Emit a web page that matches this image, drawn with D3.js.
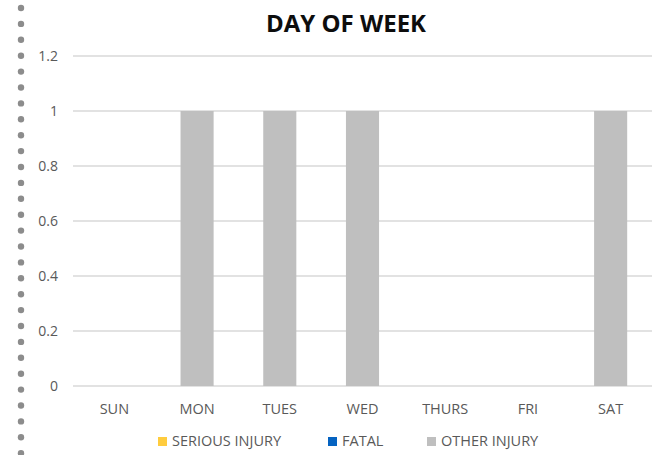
<!DOCTYPE html>
<html><head><meta charset="utf-8">
<script src="https://cdn.jsdelivr.net/npm/d3@7"></script>
<style>body{margin:0;background:#fff}svg{display:block}</style>
</head><body>
<script>
const categories = ["SUN","MON","TUES","WED","THURS","FRI","SAT"];
const seriousInjury = [0,0,0,0,0,0,0];
const fatal = [0,0,0,0,0,0,0];
const otherInjury = [0,1,1,1,0,0,1];
const yTicks = [0,0.2,0.4,0.6,0.8,1,1.2];
const seriesNames = ["SERIOUS INJURY","FATAL","OTHER INJURY"];
const seriesColors = ["#FFCC3E","#0563C1","#BFBFBF"];

const W=662,H=455;
const svg=d3.select("body").append("svg").attr("width",W).attr("height",H);
const font="'Open Sans', sans-serif";

// dotted left border
const dotY = d3.range(29).map(i=>8+i*15.9);
svg.selectAll("circle.dot").data(dotY).enter().append("circle")
  .attr("cx",21).attr("cy",d=>d).attr("r",3.2).attr("fill","#8c8c8c");

const x=d3.scaleBand().domain(categories).range([73,652]).paddingInner(0).paddingOuter(0);
const y=d3.scaleLinear().domain([0,1.2]).range([386,56]);

// gridlines
svg.selectAll("line.grid").data(yTicks).enter().append("line")
  .attr("x1",73).attr("x2",652).attr("y1",d=>y(d)).attr("y2",d=>y(d))
  .attr("stroke","#d9d9d9").attr("stroke-width",1.3);

// y labels
svg.selectAll("text.yl").data(yTicks).enter().append("text")
  .attr("x",58).attr("y",d=>y(d)).attr("dy","0.36em").attr("text-anchor","end")
  .attr("font-family",font).attr("font-size",14).attr("fill","#595959").text(d=>d);

// stacked bars
const rows=categories.map((c,i)=>({cat:c,s:seriousInjury[i],f:fatal[i],o:otherInjury[i]}));
const stack=d3.stack().keys(["s","f","o"])(rows);
const bw=x.bandwidth()*0.4;
stack.forEach((layer,li)=>{
  svg.selectAll("rect.l"+li).data(layer).enter().append("rect")
    .attr("x",d=>x(d.data.cat)+x.bandwidth()/2-bw/2)
    .attr("width",bw)
    .attr("y",d=>y(d[1]))
    .attr("height",d=>y(d[0])-y(d[1]))
    .attr("fill",seriesColors[li]);
});

// x labels
svg.selectAll("text.xl").data(categories).enter().append("text")
  .attr("x",d=>x(d)+x.bandwidth()/2).attr("y",414).attr("text-anchor","middle")
  .attr("font-family",font).attr("font-size",14.5).attr("fill","#595959").text(d=>d);

// title
svg.append("text").attr("x",346).attr("y",32).attr("text-anchor","middle")
  .attr("font-family",font).attr("font-weight","bold").attr("font-size",24)
  .attr("fill","#0d0d0d").text("DAY OF WEEK");

// legend
const legX=[158,328,427];
seriesNames.forEach((n,i)=>{
  svg.append("rect").attr("x",legX[i]).attr("y",437).attr("width",9).attr("height",9).attr("fill",seriesColors[i]);
  svg.append("text").attr("x",legX[i]+14).attr("y",446).attr("font-family",font)
    .attr("font-size",14.5).attr("fill","#595959").text(n);
});
</script>
</body></html>
